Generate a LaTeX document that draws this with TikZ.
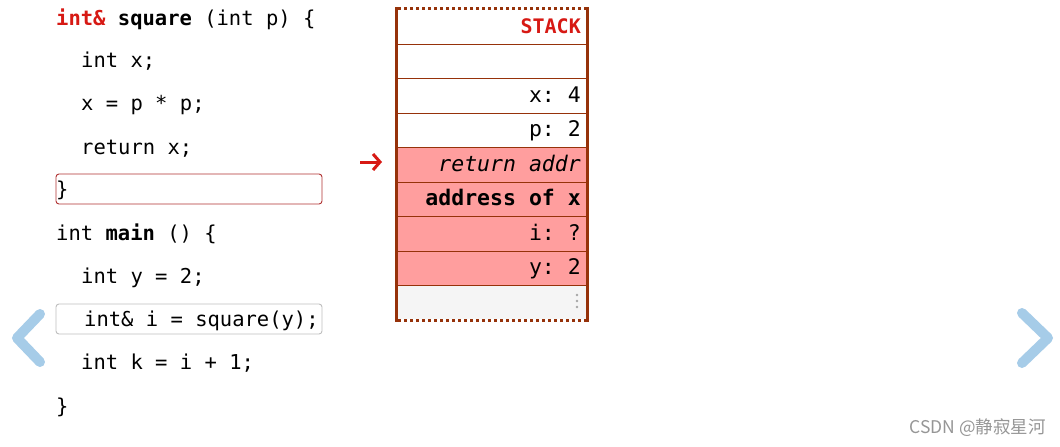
\documentclass[tikz,border=0pt]{standalone}
\usepackage{fontspec}
\setmonofont{DejaVu Sans Mono}
\newfontfamily\cjk{Noto Sans CJK SC}
\usetikzlibrary{arrows.meta}
\definecolor{brn}{RGB}{150,50,10}
\definecolor{pinkf}{RGB}{255,158,158}
\definecolor{kred}{RGB}{215,25,20}
\definecolor{chev}{RGB}{166,204,232}
\definecolor{greyf}{RGB}{245,245,245}
\definecolor{hlred}{RGB}{176,50,50}
\definecolor{hlgrey}{RGB}{190,190,190}
\definecolor{wm}{RGB}{150,150,150}
\begin{document}
\begin{tikzpicture}[x=1pt,y=-1pt,
  code/.style={anchor=west, inner sep=0pt, text height=15pt, text depth=4pt,
    font=\ttfamily\fontsize{20.5}{24}\selectfont},
  stk/.style={anchor=east, inner sep=0pt, text height=15pt, text depth=4pt,
    font=\ttfamily\fontsize{21.5}{24}\selectfont},
  row/.style={draw=brn, line width=0.9pt, minimum width=191pt, minimum height=34.56pt, anchor=north west, inner sep=0pt},
  chevron/.style={draw=chev, line width=10pt, line cap=round, line join=round},
  hlbox/.style={rounded corners=3pt, line width=0.9pt}]
\useasboundingbox[fill=white] (0,0) rectangle (1060,447);

% highlight boxes
\draw[hlbox, draw=hlred] (56,174) rectangle (322,204);
\draw[hlbox, draw=hlgrey] (56,304) rectangle (322,334);

% code
\node[code] (l1) at (56,20) {\textcolor{kred}{\bfseries int\&} \textbf{square} (int p) \{};
\node[code] (l2) at (81,62) {int x;};
\node[code] (l3) at (81,105) {x = p * p;};
\node[code] (l4) at (81,149) {return x;};
\node[code] (l5) at (56,191) {\}};
\node[code] (l6) at (56,235) {int \textbf{main} () \{};
\node[code] (l7) at (81,278) {int y = 2;};
\node[code] (l8) at (84,321) {int\& i = square(y);};
\node[code] (l9) at (81,364) {int k = i + 1;};
\node[code] (l10) at (56,408) {\}};

% stack rows
\node[row, fill=white] (r0) at (396,9) {};
\node[row, fill=white] (r1) at (396,43.56) {};
\node[row, fill=white] (r2) at (396,78.12) {};
\node[row, fill=white] (r3) at (396,112.68) {};
\node[row, fill=pinkf] (r4) at (396,147.24) {};
\node[row, fill=pinkf] (r5) at (396,181.8) {};
\node[row, fill=pinkf] (r6) at (396,216.36) {};
\node[row, fill=pinkf] (r7) at (396,250.92) {};
\node[row, fill=greyf, draw=none] (r8) at (396,285.48) {};
\draw[brn, line width=0.9pt] (r8.north west) -- (r8.north east);

% borders
\fill[white] (394,5) rectangle (590,10);
\fill[white] (394,319) rectangle (590,324);
\draw[brn, line width=3pt] (396,7) -- (396,322);
\draw[brn, line width=3pt] (587,7) -- (587,322);
\draw[brn, line width=3pt, dash pattern=on 3pt off 3pt] (398,8.5) -- (587,8.5);
\draw[brn, line width=3pt, dash pattern=on 3pt off 3pt] (398,320.5) -- (587,320.5);

% stack texts
\node[stk, font=\ttfamily\bfseries\fontsize{20}{24}\selectfont, text=kred] (t0) at (581,28) {STACK};
\node[stk] (t2) at (581,97) {x: 4};
\node[stk] (t3) at (581,131) {p: 2};
\node[stk, font=\ttfamily\itshape\fontsize{21.5}{24}\selectfont] (t4) at (581,166) {return addr};
\node[stk, font=\ttfamily\bfseries\fontsize{21.5}{24}\selectfont] (t5) at (581,200) {address of x};
\node[stk] (t6) at (581,235) {i: ?};
\node[stk] (t7) at (581,269) {y: 2};
\fill[gray!70] (577,295) circle (1.3pt) (577,301) circle (1.3pt) (577,307) circle (1.3pt);

% arrow
\coordinate (as) at (360,162);
\coordinate (ae) at (382,162);
\draw[kred, line width=3pt, -{Straight Barb[length=7pt,width=16pt,line width=3pt]}] (as) -- (ae);

% chevrons
\draw[chevron] (40,314) -- (17,338) -- (40,362);
\draw[chevron] (1022,313) -- (1048,338) -- (1022,363);

% watermark
\node[anchor=east, inner sep=0pt, text=wm, font=\cjk\fontsize{17.5}{20}\selectfont] (wm) at (1046,428) {CSDN @静寂星河};
\end{tikzpicture}
\end{document}
